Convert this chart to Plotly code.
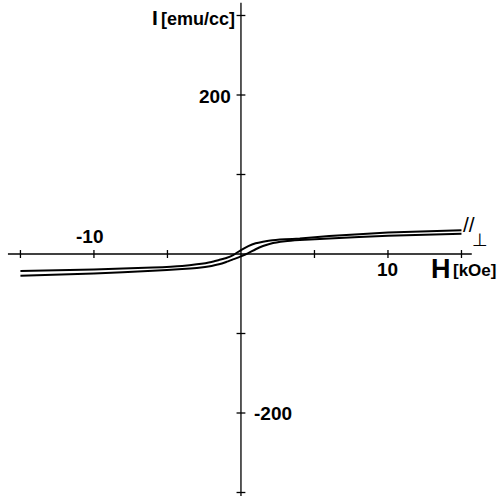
import plotly.graph_objects as go

# Data
H_kOe = [-15, -10, -6, -4, -3, -2, -1.5, -1, -0.5, 0, 0.5, 1, 1.5, 2, 3, 4, 6, 10, 15]
I_upper = [-21.5, -19.5, -17, -15, -13, -10, -7.5, -5, -1, 5, 10, 13.5, 15.5, 17, 18.5, 19.5, 22.5, 27, 30]
I_lower = [-27.5, -24.5, -21, -19, -17.5, -15, -13, -10, -6.5, -3, 1, 6, 10, 13, 16, 17.5, 19.5, 23, 25.5]

x_ticks = [-15, -10, -5, 5, 10, 15]
y_ticks = [-300, -200, -100, 100, 200, 300]
x_labels = {-10: "-10", 10: "10"}
y_labels = {200: "200", -200: "-200"}

XR = [-16.39, 17.62]
YR = [-304.4, 319.5]

FONT = "Liberation Sans Narrow, Liberation Sans, Arial, sans-serif"

fig = go.Figure()
for ys in (I_upper, I_lower):
    fig.add_trace(go.Scatter(x=H_kOe, y=ys, mode="lines", line=dict(color="black", width=2, shape="spline", smoothing=0.5),
                             showlegend=False, hoverinfo="skip"))

shapes = []
# axes
shapes.append(dict(type="line", xref="x", yref="y", x0=-15.85, x1=15.7, y0=0, y1=0, line=dict(color="black", width=1.3)))
shapes.append(dict(type="line", xref="x", yref="y", x0=0, x1=0, y0=-306, y1=316, line=dict(color="black", width=1.3)))
for t in x_ticks:
    shapes.append(dict(type="line", xref="x", yref="y", x0=t, x1=t, y0=-5, y1=5, line=dict(color="black", width=1.3)))
for t in y_ticks:
    shapes.append(dict(type="line", xref="x", yref="y", x0=-0.3, x1=0.3, y0=t, y1=t, line=dict(color="black", width=1.3)))

ann = []
for v, s in x_labels.items():
    yy = 22.6 if v < 0 else -20.1
    ann.append(dict(x=v - 0.27 if v < 0 else v, y=yy, text="<b>%s</b>" % s, showarrow=False, xref="x", yref="y",
                    font=dict(size=19, color="black", family=FONT)))
ann.append(dict(x=-0.54, y=198.7, text="<b>%s</b>" % y_labels[200], xanchor="right", showarrow=False, xref="x", yref="y",
                font=dict(size=19, color="black", family=FONT)))
ann.append(dict(x=0.75, y=-201, text="<b>%s</b>" % y_labels[-200], xanchor="left", showarrow=False, xref="x", yref="y",
                font=dict(size=19, color="black", family=FONT)))
# axis titles
ann.append(dict(x=-0.27, y=296, text="<b>[emu/cc]</b>", xanchor="right", showarrow=False, xref="x", yref="y",
                font=dict(size=18, color="black", family=FONT)))
ann.append(dict(x=-5.5, y=298, text="<b>I</b>", xanchor="right", showarrow=False, xref="x", yref="y",
                font=dict(size=21, color="black", family=FONT)))
ann.append(dict(x=14.35, y=-18.9, text="<b>H</b>", xanchor="right", showarrow=False, xref="x", yref="y",
                borderpad=0, font=dict(size=27, color="black", family=FONT)))
ann.append(dict(x=14.35, y=-21, text="<b>[kOe]</b>", xanchor="left", showarrow=False, xref="x", yref="y",
                borderpad=0, font=dict(size=17, color="black", family=FONT)))
# branch marks
ann.append(dict(x=15.5, y=36.5, text="//", showarrow=False, xref="x", yref="y",
                font=dict(size=21, color="black", family=FONT)))
ann.append(dict(x=16.25, y=18, text="⊥", showarrow=False, xref="x", yref="y",
                font=dict(size=18, color="black", family="DejaVu Sans")))

fig.update_layout(
    width=500, height=496, margin=dict(l=0, r=0, t=0, b=0),
    paper_bgcolor="white", plot_bgcolor="white",
    xaxis=dict(range=XR, visible=False, fixedrange=True),
    yaxis=dict(range=YR, visible=False, fixedrange=True),
    shapes=shapes, annotations=ann,
)
fig.write_html("out.html")
